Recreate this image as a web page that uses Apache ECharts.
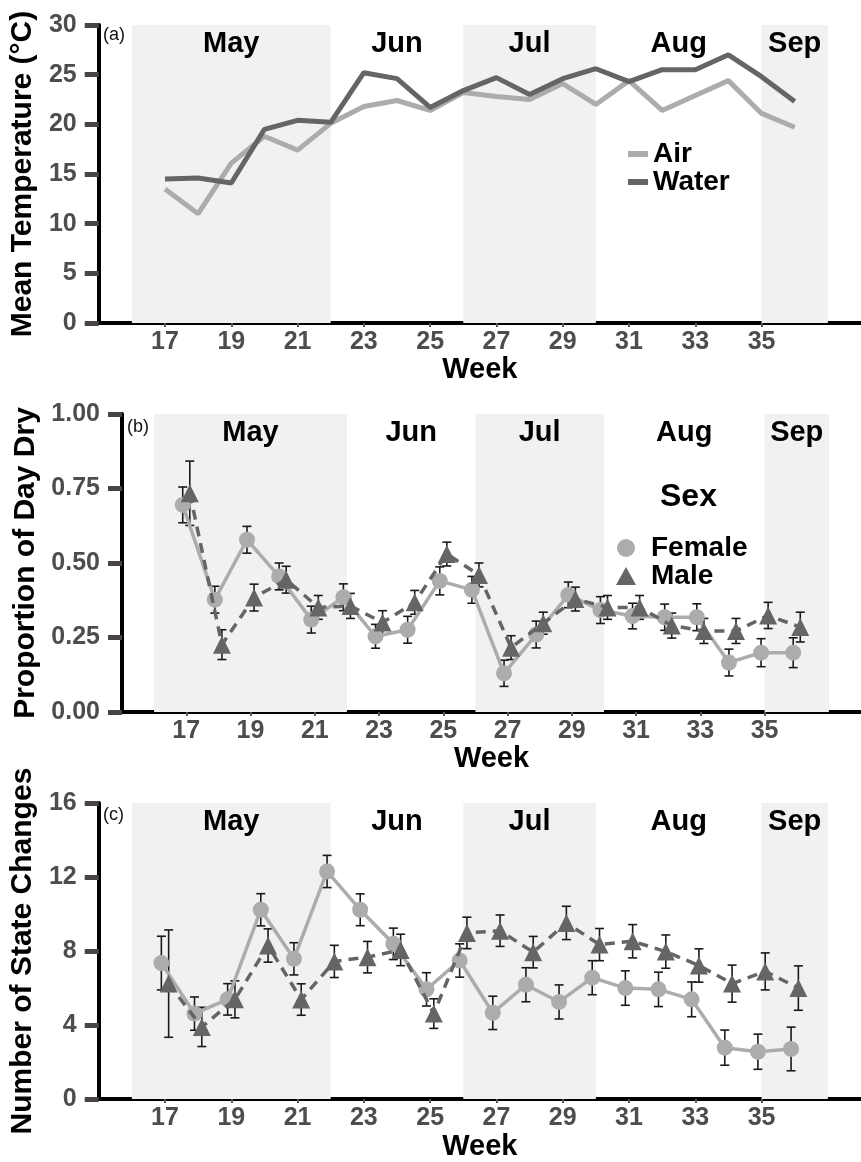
<!DOCTYPE html>
<html>
<head>
  <meta charset="UTF-8">
  <title>Weekly temperature, drying and state changes</title>
  <script src="https://cdn.jsdelivr.net/npm/echarts@6/dist/echarts.min.js"></script>
  <style>
    html, body { margin: 0; padding: 0; background: #fff; }
  </style>
</head>
<body>
  <div id="chart" style="width: 861px; height: 1162px"></div>
  <script>
    // weeks and labelled ticks
    var weeks = [17, 18, 19, 20, 21, 22, 23, 24, 25, 26, 27, 28, 29, 30, 31, 32, 33, 34, 35, 36];
    var weekTicks = [17, 19, 21, 23, 25, 27, 29, 31, 33, 35];

    // month bands (start/end week), only some are shaded
    var monthNames = ['May', 'Jun', 'Jul', 'Aug', 'Sep'];
    var monthStart = [16, 22, 26, 30, 35];
    var monthEnd = [22, 26, 30, 35, 37];
    var monthShaded = [true, false, true, false, true];

    // (a) mean temperature
    var airTemp = [13.5, 11.0, 16.1, 18.8, 17.4, 20.1, 21.8, 22.4, 21.4, 23.2, 22.8, 22.5, 24.1, 22.0, 24.4, 21.4, 22.9, 24.4, 21.1, 19.7];
    var waterTemp = [14.5, 14.6, 14.1, 19.5, 20.4, 20.2, 25.2, 24.6, 21.7, 23.4, 24.7, 23.0, 24.6, 25.6, 24.3, 25.5, 25.5, 27.0, 24.8, 22.3];

    // (b) proportion of day dry, mean and SE
    var dryFemale = [0.695, 0.377, 0.578, 0.455, 0.31, 0.385, 0.254, 0.276, 0.44, 0.41, 0.13, 0.26, 0.393, 0.342, 0.322, 0.318, 0.318, 0.166, 0.199, 0.199];
    var dryFemaleSE = [0.06, 0.045, 0.045, 0.045, 0.045, 0.045, 0.04, 0.045, 0.047, 0.045, 0.044, 0.045, 0.043, 0.045, 0.043, 0.044, 0.045, 0.045, 0.047, 0.05];
    var dryMale = [0.734, 0.226, 0.384, 0.444, 0.351, 0.356, 0.30, 0.368, 0.53, 0.46, 0.216, 0.298, 0.379, 0.351, 0.351, 0.29, 0.272, 0.272, 0.324, 0.285];
    var dryMaleSE = [0.108, 0.05, 0.045, 0.045, 0.04, 0.042, 0.04, 0.04, 0.04, 0.04, 0.04, 0.037, 0.04, 0.04, 0.04, 0.042, 0.042, 0.042, 0.044, 0.05];

    // (c) number of state changes, mean and SE
    var chgFemale = [7.35, 4.62, 5.39, 10.23, 7.58, 12.3, 10.23, 8.39, 5.93, 7.49, 4.66, 6.18, 5.25, 6.56, 6.0, 5.93, 5.39, 2.78, 2.56, 2.71];
    var chgFemaleSE = [1.45, 0.9, 0.85, 0.87, 0.87, 0.87, 0.86, 0.85, 0.9, 0.9, 0.9, 0.92, 0.92, 0.92, 0.93, 0.93, 0.94, 0.95, 0.95, 1.18];
    var chgMale = [6.24, 3.9, 5.39, 8.3, 5.38, 7.44, 7.67, 8.06, 4.62, 8.98, 9.1, 7.94, 9.52, 8.35, 8.53, 7.97, 7.22, 6.24, 6.9, 6.0];
    var chgMaleSE = [2.9, 1.06, 1.0, 0.9, 0.85, 0.87, 0.85, 0.85, 0.8, 0.85, 0.85, 0.85, 0.9, 0.87, 0.9, 0.9, 0.9, 1.0, 1.0, 1.2];

    var LIGHT = '#acacac';
    var DARK = '#656565';
    var TICK = '#4a4545';
    var FONT = '"Liberation Sans", Arial, Helvetica, sans-serif';
    var dodge = 0.11; // small horizontal shift between sexes

    var myChart = echarts.init(document.getElementById('chart'));

    function pairs(ys, shift) {
      return weeks.map(function (w, i) { return [w + shift, ys[i]]; });
    }
    function errData(ys, se, shift) {
      return weeks.map(function (w, i) { return [w + shift, ys[i] - se[i], ys[i] + se[i]]; });
    }

    // month shading + labels
    function monthAreas() {
      return monthNames.map(function (m, i) {
        return [{
          name: m,
          xAxis: monthStart[i],
          itemStyle: { color: monthShaded[i] ? '#f1f1f1' : 'rgba(0,0,0,0)' }
        }, { xAxis: monthEnd[i] }];
      });
    }
    var monthMark = {
      silent: true,
      label: {
        show: true, position: 'insideTop', distance: 4,
        color: '#000', fontWeight: 'bold', fontSize: 29, fontFamily: FONT
      },
      data: monthAreas()
    };

    function renderErr(params, api) {
      var x = api.value(0);
      var top = api.coord([x, api.value(2)]);
      var bot = api.coord([x, api.value(1)]);
      var cw = 4.5;
      var st = { stroke: '#1a1a1a', lineWidth: 1.6 };
      return {
        type: 'group',
        children: [
          { type: 'line', shape: { x1: top[0], y1: top[1], x2: bot[0], y2: bot[1] }, style: st },
          { type: 'line', shape: { x1: top[0] - cw, y1: top[1], x2: top[0] + cw, y2: top[1] }, style: st },
          { type: 'line', shape: { x1: bot[0] - cw, y1: bot[1], x2: bot[0] + cw, y2: bot[1] }, style: st }
        ]
      };
    }

    function xAxisFor(gi) {
      return {
        gridIndex: gi, type: 'value', min: 15, max: 38,
        name: 'Week', nameLocation: 'middle', nameGap: 32,
        nameTextStyle: { color: '#000', fontWeight: 'bold', fontSize: 29, fontFamily: FONT },
        axisLine: { show: true, onZero: false, lineStyle: { color: '#000', width: 4 } },
        axisTick: { show: true, inside: false, customValues: weekTicks, length: 4, lineStyle: { color: '#5a5555', width: 2, opacity: 1 } },
        axisLabel: { customValues: weekTicks, margin: 7, color: '#4d4d4d', fontWeight: 'bold', fontSize: 25, fontFamily: FONT },
        splitLine: { show: false }
      };
    }
    function yAxisFor(gi, name, max, interval, gap, fmt) {
      return {
        gridIndex: gi, type: 'value', min: 0, max: max, interval: interval,
        name: name, nameLocation: 'middle', nameGap: gap,
        nameTextStyle: { color: '#000', fontWeight: 'bold', fontSize: 30, fontFamily: FONT },
        axisLine: { show: true, onZero: false, lineStyle: { color: '#000', width: 4 } },
        axisTick: { show: true, inside: false, length: 14, lineStyle: { color: TICK, width: 5, opacity: 1 } },
        axisLabel: { margin: 22, color: '#4d4d4d', fontWeight: 'bold', fontSize: 25, fontFamily: FONT, formatter: fmt },
        splitLine: { show: false }
      };
    }

    var option = {
      animation: false,
      backgroundColor: '#fff',
      title: [
        { text: '(a)', left: 103, top: 26, padding: 0, textStyle: { fontSize: 18, fontWeight: 'normal', color: '#111', fontFamily: FONT } },
        { text: '(b)', left: 127, top: 418, padding: 0, textStyle: { fontSize: 18, fontWeight: 'normal', color: '#111', fontFamily: FONT } },
        { text: '(c)', left: 103, top: 806, padding: 0, textStyle: { fontSize: 18, fontWeight: 'normal', color: '#111', fontFamily: FONT } },
        { text: 'Sex', left: 660, top: 481, padding: 0, textStyle: { fontSize: 32, fontWeight: 'bold', color: '#000', fontFamily: FONT } }
      ],
      grid: [
        { left: 98, top: 25, width: 768, height: 298 },
        { left: 122, top: 414, width: 747.5, height: 298 },
        { left: 98, top: 803, width: 768, height: 298 }
      ],
      legend: [
        {
          orient: 'vertical', left: 623, top: 135, itemGap: 0,
          itemWidth: 20, itemHeight: 6, icon: 'rect',
          textStyle: { fontSize: 28, fontWeight: 'bold', color: '#000', fontFamily: FONT },
          data: ['Air', 'Water']
        },
        {
          orient: 'vertical', left: 611, top: 529, itemGap: 0,
          itemWidth: 40, itemHeight: 18,
          textStyle: { fontSize: 28, fontWeight: 'bold', color: '#000', fontFamily: FONT },
          data: [
            { name: 'Female', icon: 'circle' },
            { name: 'Male', icon: 'path://M5,0 L10,9 L0,9 Z' }
          ]
        }
      ],
      xAxis: [xAxisFor(0), xAxisFor(1), xAxisFor(2)],
      yAxis: [
        yAxisFor(0, 'Mean Temperature (°C)', 30, 5, 57),
        yAxisFor(1, 'Proportion of Day Dry', 1, 0.25, 81, function (v) { return v.toFixed(2); }),
        yAxisFor(2, 'Number of State Changes', 16, 4, 57)
      ],
      series: [
        // (a)
        {
          name: 'Air', type: 'line', xAxisIndex: 0, yAxisIndex: 0,
          data: pairs(airTemp, 0), showSymbol: false,
          lineStyle: { color: LIGHT, width: 5 }, itemStyle: { color: LIGHT },
          markArea: monthMark
        },
        {
          name: 'Water', type: 'line', xAxisIndex: 0, yAxisIndex: 0,
          data: pairs(waterTemp, 0), showSymbol: false,
          lineStyle: { color: DARK, width: 5 }, itemStyle: { color: DARK }
        },
        // (b)
        {
          type: 'custom', xAxisIndex: 1, yAxisIndex: 1, renderItem: renderErr,
          encode: { x: 0, y: [1, 2] }, data: errData(dryFemale, dryFemaleSE, -dodge), z: 1, silent: true
        },
        {
          type: 'custom', xAxisIndex: 1, yAxisIndex: 1, renderItem: renderErr,
          encode: { x: 0, y: [1, 2] }, data: errData(dryMale, dryMaleSE, dodge), z: 1, silent: true
        },
        {
          name: 'Female', type: 'line', xAxisIndex: 1, yAxisIndex: 1,
          data: pairs(dryFemale, -dodge), symbol: 'circle', symbolSize: 16,
          lineStyle: { color: LIGHT, width: 3.5 }, itemStyle: { color: LIGHT }, z: 3,
          markArea: monthMark
        },
        {
          name: 'Male', type: 'line', xAxisIndex: 1, yAxisIndex: 1,
          data: pairs(dryMale, dodge), symbol: 'triangle', symbolSize: 18,
          lineStyle: { color: DARK, width: 3.5, type: [10, 7] }, itemStyle: { color: DARK }, z: 4
        },
        // (c)
        {
          type: 'custom', xAxisIndex: 2, yAxisIndex: 2, renderItem: renderErr,
          encode: { x: 0, y: [1, 2] }, data: errData(chgFemale, chgFemaleSE, -dodge), z: 1, silent: true
        },
        {
          type: 'custom', xAxisIndex: 2, yAxisIndex: 2, renderItem: renderErr,
          encode: { x: 0, y: [1, 2] }, data: errData(chgMale, chgMaleSE, dodge), z: 1, silent: true
        },
        {
          name: 'Female', type: 'line', xAxisIndex: 2, yAxisIndex: 2,
          data: pairs(chgFemale, -dodge), symbol: 'circle', symbolSize: 16,
          lineStyle: { color: LIGHT, width: 3.5 }, itemStyle: { color: LIGHT }, z: 3,
          markArea: monthMark
        },
        {
          name: 'Male', type: 'line', xAxisIndex: 2, yAxisIndex: 2,
          data: pairs(chgMale, dodge), symbol: 'triangle', symbolSize: 18,
          lineStyle: { color: DARK, width: 3.5, type: [10, 7] }, itemStyle: { color: DARK }, z: 4
        }
      ]
    };
    myChart.setOption(option);
  </script>
</body>
</html>
